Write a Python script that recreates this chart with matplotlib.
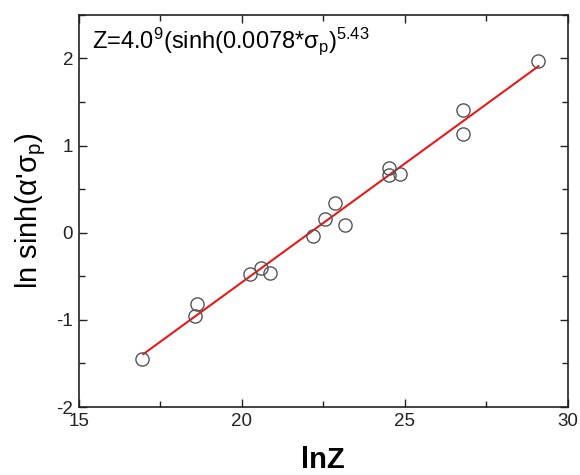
import numpy as np
import matplotlib
matplotlib.use('Agg')
import matplotlib.pyplot as plt
from matplotlib.ticker import MultipleLocator

plt.rcParams['font.family'] = ['Liberation Sans', 'DejaVu Sans']
plt.rcParams['mathtext.fontset'] = 'custom'
plt.rcParams['mathtext.rm'] = 'Liberation Sans'
plt.rcParams['mathtext.it'] = 'Liberation Sans'
plt.rcParams['mathtext.bf'] = 'Liberation Sans:bold'
plt.rcParams['axes.unicode_minus'] = False

# measured points
lnZ = [16.95, 18.57, 18.64, 20.25, 20.59, 20.87, 22.2, 22.55, 22.87, 23.16,
       24.51, 24.51, 24.86, 26.8, 26.8, 29.1]
ln_sinh = [-1.45, -0.96, -0.82, -0.47, -0.40, -0.46, -0.04, 0.16, 0.34, 0.085,
           0.74, 0.66, 0.67, 1.41, 1.13, 1.97]

# linear fit line
fit_x = [16.98, 29.1]
fit_slope = 0.2725
fit_intercept = -6.02

fig = plt.figure(figsize=(5.8, 4.75), dpi=100)
ax = fig.add_axes([0.1357, 0.143, 0.8433, 0.826])

fx = np.array(fit_x)
ax.plot(fx, fit_slope * fx + fit_intercept, color='#e8191b', lw=1.5, zorder=2)
ax.plot(lnZ, ln_sinh, 'o', ms=9.5, mfc='none', mec='#555555', mew=1.0, zorder=3)

ax.set_xlim(15, 30)
ax.set_ylim(-2, 2.5)
ax.xaxis.set_major_locator(MultipleLocator(5))
ax.xaxis.set_minor_locator(MultipleLocator(2.5))
ax.yaxis.set_major_locator(MultipleLocator(1))
ax.yaxis.set_minor_locator(MultipleLocator(0.5))
ax.tick_params(which='both', direction='in', top=True, right=True,
               labelsize=13.5, colors='#222222', width=1.0)
ax.tick_params(which='major', length=6, pad=4)
ax.tick_params(which='minor', length=4)
for s in ax.spines.values():
    s.set_linewidth(1.2)
    s.set_color('#222222')

ax.set_xlabel('lnZ', fontsize=21, fontweight='bold', labelpad=12)
ax.set_ylabel(r"ln sinh($\alpha$'$\sigma_\mathrm{p}$)", fontsize=21, labelpad=6)

ax.text(0.027, 0.916, r'Z=4.0$^9$(sinh(0.0078*$\sigma_\mathrm{p}$)$^{5.43}$',
        transform=ax.transAxes, fontsize=17, va='baseline', ha='left')

fig.savefig('out.png', dpi=100)
